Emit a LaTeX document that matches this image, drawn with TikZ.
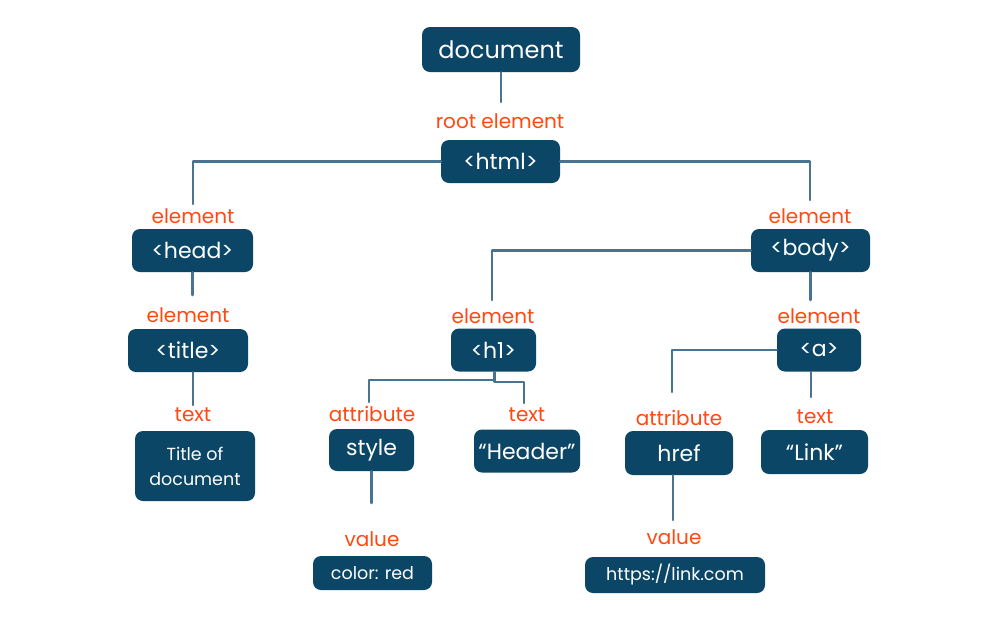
\documentclass[tikz,border=0pt]{standalone}
\usepackage{fontspec}
\setmainfont{Poppins}
\definecolor{boxblue}{RGB}{12,70,102}
\definecolor{wirecol}{RGB}{72,116,146}
\definecolor{tagred}{RGB}{255,72,18}
\begin{document}
\begin{tikzpicture}[x=1pt, y=-1pt, line join=round, line cap=round,
	dom/.style={fill=boxblue, text=white, rounded corners=8pt, minimum height=43pt, inner sep=0pt, font=\fontsize{22}{24}\selectfont},
	small/.style={font=\fontsize{17.5}{25}\selectfont, align=center},
	tag/.style={text=tagred, inner sep=0pt, font=\fontsize{20}{22}\selectfont},
	wire/.style={draw=wirecol, line width=2.5pt}]
	\fill[white] (0,0) rectangle (1000,625);
	\useasboundingbox (0,0) rectangle (1000,625);
	% boxes
	\node[dom, minimum width=158pt, minimum height=45pt, font=\fontsize{24}{26}\selectfont] (doc) at (501,49.5) {document};
	\node[dom, minimum width=119pt] (html) at (500.5,161.5) {<html>};
	\node[dom, minimum width=121pt] (head) at (192.5,250.5) {<head>};
	\node[dom, minimum width=120pt] (title) at (188,350.5) {<title>};
	\node[dom, small, minimum width=120pt, minimum height=70pt] (ttext) at (195,466) {Title of\\document};
	\node[dom, minimum width=119pt] (body) at (810.5,250.5) {<body>};
	\node[dom, minimum width=85pt] (h1) at (493.5,350) {<h1>};
	\node[dom, minimum width=85pt, minimum height=42pt] (style) at (371.5,450) {style};
	\node[dom, small, minimum width=119pt, minimum height=34pt] (sval) at (372.5,573) {color: red};
	\node[dom, minimum width=106pt] (htext) at (527,451) {“Header”};
	\node[dom, minimum width=84pt] (a) at (819,350) {<a>};
	\node[dom, minimum width=108pt, minimum height=44pt] (href) at (679,453) {href};
	\node[dom, small, minimum width=180pt, minimum height=36pt] (hval) at (675,575) {https://link.com};
	\node[dom, minimum width=107pt, minimum height=44pt] (atext) at (814.5,452) {“Link”};
	% labels
	\node[tag] (lroot) at (500,121) {root element};
	\node[tag] (lhead) at (193,216) {element};
	\node[tag] (ltitle) at (188,315) {element};
	\node[tag] (lttext) at (193,415) {text};
	\node[tag] (lbody) at (810,216) {element};
	\node[tag] (lh1) at (493,316) {element};
	\node[tag] (lstyle) at (372,414) {attribute};
	\node[tag] (lsval) at (372,539) {value};
	\node[tag] (lhtext) at (527,415) {text};
	\node[tag] (la) at (819,316) {element};
	\node[tag] (lhref) at (679,418) {attribute};
	\node[tag] (lhval) at (674,537) {value};
	\node[tag] (latext) at (815,417) {text};
	% free ends
	\coordinate (docend) at (501,102);
	\coordinate (headend) at (193,204);
	\coordinate (bodyend) at (810,200);
	\coordinate (headbot) at (192.5,295);
	\coordinate (titlebot) at (193,405);
	\coordinate (h1end) at (492,300);
	\coordinate (aend) at (810.5,300);
	\coordinate (h1fork) at (494.5,380);
	\coordinate (styleend) at (369,402);
	\coordinate (htextend) at (524,403);
	\coordinate (stylebot) at (371.5,503);
	\coordinate (hrefend) at (672,392);
	\coordinate (atextend) at (811,397);
	\coordinate (hrefbot) at (673,520);
	% connectors
	\draw[wire] (doc.south) -- (docend);
	\draw[wire] (html.west) -| (headend);
	\draw[wire] (html.east) -| (bodyend);
	\draw[wire] (head.south) -- (headbot);
	\draw[wire] (titlebot |- title.south) -- (titlebot);
	\draw[wire] (body.west) -| (h1end);
	\draw[wire] (body.south) -- (aend);
	\draw[wire] (h1fork |- h1.south) -- (h1fork) -| (styleend);
	\draw[wire] (h1fork) -- ++(0,2) -| (htextend);
	\draw[wire] (style.south) -- (stylebot);
	\draw[wire] (a.west) -| (hrefend);
	\draw[wire] (atextend |- a.south) -- (atextend);
	\draw[wire] (hrefbot |- href.south) -- (hrefbot);
\end{tikzpicture}
\end{document}
